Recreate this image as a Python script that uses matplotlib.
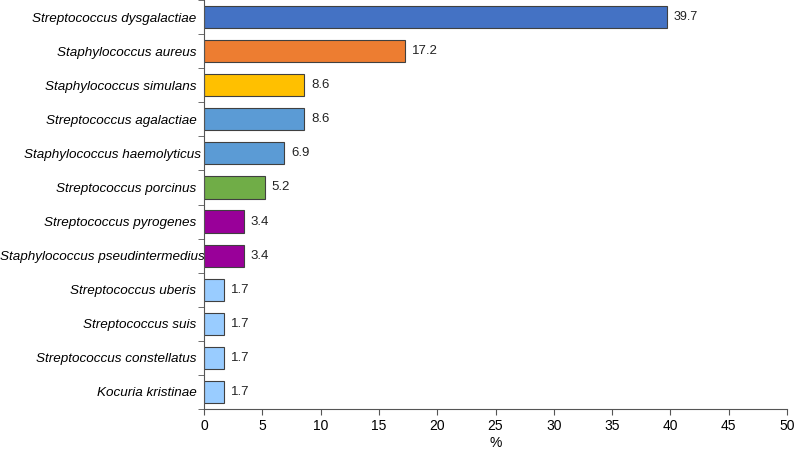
import matplotlib
matplotlib.use("Agg")
import matplotlib.pyplot as plt
import matplotlib.transforms as mtransforms
import numpy as np

plt.rcParams["font.family"] = ["Liberation Sans", "DejaVu Sans"]

species = [
    "Streptococcus dysgalactiae",
    "Staphylococcus aureus",
    "Staphylococcus simulans",
    "Streptococcus agalactiae",
    "Staphylococcus haemolyticus",
    "Streptococcus porcinus",
    "Streptococcus pyrogenes",
    "Staphylococcus pseudintermedius",
    "Streptococcus uberis",
    "Streptococcus suis",
    "Streptococcus constellatus",
    "Kocuria kristinae",
]
percent = [39.7, 17.2, 8.6, 8.6, 6.9, 5.2, 3.4, 3.4, 1.7, 1.7, 1.7, 1.7]
colors = ["#4472C4", "#ED7D31", "#FFC000", "#5B9BD5", "#5B9BD5", "#70AD47",
          "#990099", "#990099", "#99CCFF", "#99CCFF", "#99CCFF", "#99CCFF"]

fig = plt.figure(figsize=(7.95, 4.5), dpi=100)
ax = fig.add_axes([0.2566, 0.0911, 0.7334, 0.9089])

y = np.arange(len(species))
ax.barh(y, percent, height=0.65, color=colors, edgecolor="#404040", linewidth=0.8)

for yi, v in zip(y, percent):
    ax.text(v + 0.6, yi, f"{v}", va="center", ha="left",
            fontsize=9 if v > 30 else 9.5, color="#222222")

ax.set_ylim(len(species) - 0.5, -0.5)
ax.set_xlim(0, 50)
ax.set_xticks(np.arange(0, 51, 5))
ax.set_yticks(y)
ax.set_yticklabels(species, fontsize=9.7, style="italic")
ax.set_yticks(np.arange(-0.5, len(species), 1), minor=True)
ax.tick_params(axis="y", which="major", length=0, pad=5.5)
ax.tick_params(axis="y", which="minor", length=4, color="#555555")
ax.tick_params(axis="x", labelsize=10, length=4, color="#555555")
ax.set_xlabel("%", fontsize=10, labelpad=2)

# long labels run over the axis a little, as in the original
shift = {"Staphylococcus haemolyticus": 5, "Staphylococcus pseudintermedius": 8}
for lab in ax.get_yticklabels():
    dx = shift.get(lab.get_text(), 0)
    if dx:
        lab.set_transform(lab.get_transform() +
                          mtransforms.ScaledTranslation(dx / 100, 0, fig.dpi_scale_trans))

for s in ["top", "right"]:
    ax.spines[s].set_visible(False)
for s in ["left", "bottom"]:
    ax.spines[s].set_color("#555555")

fig.savefig("out.png", dpi=100)
